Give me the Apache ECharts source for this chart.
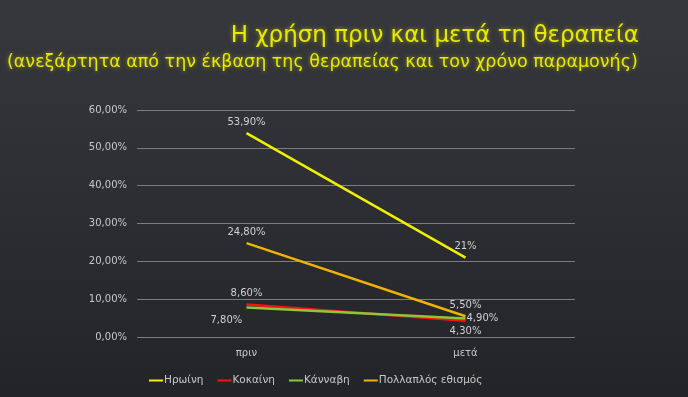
<!DOCTYPE html>
<html><head><meta charset="utf-8">
<script src="https://cdn.jsdelivr.net/npm/echarts@6/dist/echarts.min.js"></script>
<style>html,body{margin:0;padding:0;background:#2a2c30;}#c{width:688px;height:397px;}</style>
</head><body><div id="c"></div>
<script>
const categories = ['πριν', 'μετά'];
const heroin = [53.9, 21];
const cocaine = [8.6, 4.3];
const cannabis = [7.8, 4.9];
const multiple = [24.8, 5.5];
const heroinLabels = ['53,90%', '21%'];
const cocaineLabels = ['8,60%', '4,30%'];
const cannabisLabels = ['7,80%', '4,90%'];
const multipleLabels = ['24,80%', '5,50%'];
const seriesNames = ['Ηρωίνη', 'Κοκαίνη', 'Κάνναβη', 'Πολλαπλός εθισμός'];

const chart = echarts.init(document.getElementById('c'));
const labelFont = {color: '#d0d0d0', fontSize: 10, fontFamily: 'DejaVu Sans'};
function mk(name, data, labels, color, posStart, posEnd, z) {
  return {
    name, type: 'line',
    data: data.map((v, i) => ({value: v, label: {position: i === 0 ? posStart : posEnd, formatter: labels[i]}})),
    symbol: 'circle', symbolSize: 0.01, showSymbol: true,
    lineStyle: {color, width: 2.5}, itemStyle: {color}, z,
    label: Object.assign({show: true, distance: 6}, labelFont)
  };
}
const cannabisSeries = mk(seriesNames[2], cannabis, cannabisLabels, '#8cc63f', [-36, 8], 'right', 5);
cannabisSeries.data[1].label.distance = 1;
chart.setOption({
  backgroundColor: {type: 'linear', x: 0, y: 0, x2: 0, y2: 1, colorStops: [{offset: 0, color: '#36383d'}, {offset: 1, color: '#222428'}]},
  title: [
    {text: 'Η χρήση πριν και μετά τη θεραπεία', right: 44, top: 20, textStyle: {color: '#e8e800', fontSize: 23, fontWeight: 'normal', fontFamily: 'DejaVu Sans', textShadowColor: 'rgba(255,255,0,0.5)', textShadowBlur: 4}},
    {text: '(ανεξάρτητα από την έκβαση της θεραπείας και τον χρόνο παραμονής)', left: 2, top: 48, textStyle: {color: '#e8e800', fontSize: 17.5, fontWeight: 'normal', fontFamily: 'DejaVu Sans', textShadowColor: 'rgba(255,255,0,0.5)', textShadowBlur: 4}}
  ],
  legend: {
    bottom: 6, left: 144, itemWidth: 14, itemHeight: 2, itemGap: 14, icon: 'rect',
    textStyle: {color: '#c8c8c8', fontSize: 10.5, fontFamily: 'DejaVu Sans', padding: [0, 0, 0, -4]},
    data: seriesNames
  },
  grid: {left: 137, right: 113, top: 110, bottom: 60},
  xAxis: {type: 'category', data: categories, boundaryGap: true,
    axisLine: {show: false}, axisTick: {show: false},
    axisLabel: {color: '#c8c8c8', fontSize: 10, fontFamily: 'DejaVu Sans', margin: 11}},
  yAxis: {type: 'value', min: 0, max: 60, interval: 10,
    axisLabel: {color: '#c8c8c8', fontSize: 10, fontFamily: 'DejaVu Sans', margin: 10, formatter: v => v.toFixed(2).replace('.', ',') + '%'},
    splitLine: {lineStyle: {color: '#7a7c80', width: 1}}},
  series: [
    mk(seriesNames[0], heroin, heroinLabels, '#f0f000', 'top', 'top', 4),
    mk(seriesNames[1], cocaine, cocaineLabels, '#ff1010', 'top', 'bottom', 3),
    cannabisSeries,
    mk(seriesNames[3], multiple, multipleLabels, '#f0b400', 'top', 'top', 2)
  ]
});
</script></body></html>
